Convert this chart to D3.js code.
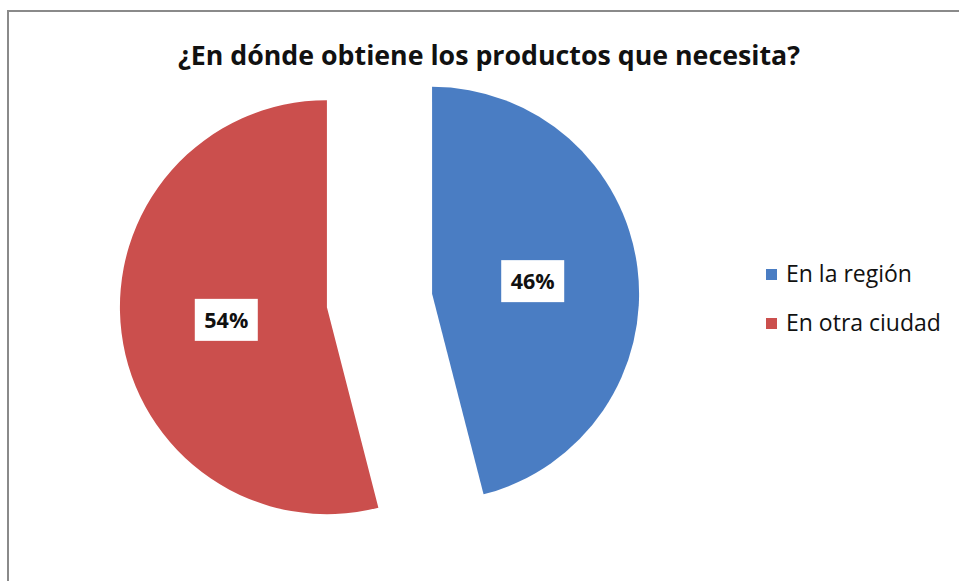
<!DOCTYPE html>
<html>
<head>
<meta charset="utf-8">
<script src="https://cdn.jsdelivr.net/npm/d3@7"></script>
<style>
  html, body { margin: 0; padding: 0; background: #fff; }
  svg { display: block; }
</style>
</head>
<body>
<svg id="chart" width="959" height="581"></svg>
<script>
// Survey answers: where people obtain the products they need
const titleText = "¿En dónde obtiene los productos que necesita?";
const categories = ["En la región", "En otra ciudad"];
const values = [46, 54];
const sliceColors = ["#4a7dc3", "#cb4f4d"];

const W = 959, H = 581;
const svg = d3.select("#chart");
const FONT = "'Open Sans', 'Noto Sans', sans-serif";

// chart frame (only top and left edges fall inside the view)
svg.append("rect")
  .attr("x", 8).attr("y", 11)
  .attr("width", W + 20).attr("height", H + 20)
  .attr("fill", "#fff")
  .attr("stroke", "#8a8a8a").attr("stroke-width", 2);

// helper: set font size so that text spans a given width
function fitWidth(sel, target, base) {
  sel.attr("font-size", base);
  const w = sel.node().getComputedTextLength();
  const size = base * target / w;
  sel.attr("font-size", size);
  return size;
}

// title
const title = svg.append("text")
  .attr("x", 489).attr("y", 65)
  .attr("text-anchor", "middle")
  .attr("font-family", FONT)
  .attr("font-weight", "bold")
  .attr("fill", "#111")
  .text(titleText);
fitWidth(title, 622, 24);

// pie geometry
const cx = 379.5, cy = 300.5, radius = 207, explode = 53;
const pie = d3.pie().sort(null).value(d => d)(values);
const arc = d3.arc().innerRadius(0).outerRadius(radius);

const g = svg.append("g").attr("transform", `translate(${cx},${cy})`);

const slices = g.selectAll("g.slice")
  .data(pie)
  .join("g")
  .attr("class", "slice")
  .attr("transform", d => {
    const a = (d.startAngle + d.endAngle) / 2;
    return `translate(${explode * Math.sin(a)},${-explode * Math.cos(a)})`;
  });

slices.append("path")
  .attr("d", arc)
  .attr("fill", (d, i) => sliceColors[i]);

// percentage labels in white boxes
const total = d3.sum(values);
slices.each(function (d) {
  const a = (d.startAngle + d.endAngle) / 2;
  const rr = radius * 0.49;
  const lx = rr * Math.sin(a), ly = -rr * Math.cos(a);
  const s = d3.select(this);
  const bw = 63, bh = 42;
  s.append("rect")
    .attr("x", lx - bw / 2).attr("y", ly - bh / 2)
    .attr("width", bw).attr("height", bh)
    .attr("fill", "#fff");
  s.append("text")
    .attr("x", lx).attr("y", ly + 8)
    .attr("text-anchor", "middle")
    .attr("font-family", FONT)
    .attr("font-weight", "bold")
    .attr("font-size", 21.5)
    .attr("fill", "#111")
    .text(Math.round(d.value / total * 100) + "%");
});

// legend
const legendY = d3.scaleBand().domain(categories).range([250, 348]);
const leg = svg.append("g").selectAll("g")
  .data(categories)
  .join("g")
  .attr("transform", d => `translate(766,${legendY(d) + legendY.bandwidth() / 2})`);

leg.append("rect")
  .attr("x", 0).attr("y", -5.5)
  .attr("width", 11).attr("height", 11)
  .attr("fill", (d, i) => sliceColors[i]);

const legText = leg.append("text")
  .attr("x", 20).attr("y", 7.5)
  .attr("font-family", FONT)
  .attr("fill", "#111")
  .text(d => d);
const legSize = fitWidth(legText.filter((d, i) => i === 1), 155, 20);
legText.attr("font-size", legSize);
</script>
</body>
</html>
